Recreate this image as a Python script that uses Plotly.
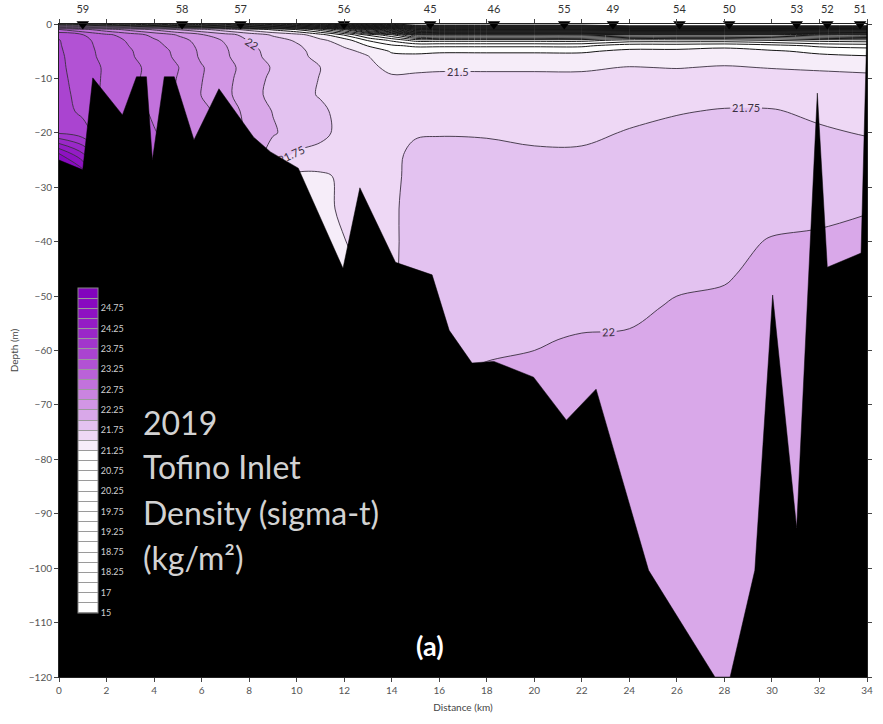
import numpy as np
import plotly.graph_objects as go

# ---------------- data ----------------
distance_km = [0, 1, 2, 3, 4, 5, 6, 7, 8, 9, 10, 11, 12, 13, 14, 15, 16,
               18, 20, 22, 24, 26, 28, 30, 32, 34]
depth_m = [0, -1, -2, -3, -4, -5, -6, -8, -10, -13, -16, -20, -24, -28,
           -34, -40, -46, -52, -58, -64, -75, -90, -105, -120]

# sigma-t profile for each distance (top to bottom, matching depth_m)
profiles = [
    [21.0, 23.0, 23.45, 23.51, 23.52, 23.53, 23.54, 23.55, 23.56, 23.58, 23.6, 23.72, 24.8, 25.2, 25.3, 25.3, 25.3, 25.3, 25.3, 25.3, 25.3, 25.3, 25.3, 25.3],
    [20.8, 22.8, 23.26, 23.32, 23.34, 23.36, 23.37, 23.38, 23.4, 23.42, 23.45, 23.6, 24.3, 24.98, 25.2, 25.2, 25.2, 25.2, 25.2, 25.2, 25.2, 25.2, 25.2, 25.2],
    [20.6, 22.6, 23.05, 23.12, 23.14, 23.15, 23.16, 23.21, 23.2, 23.19, 23.26, 23.35, 23.6, 23.98, 24.45, 24.8, 24.9, 24.9, 24.9, 24.9, 24.9, 24.9, 24.9, 24.9],
    [20.4, 22.4, 22.88, 22.96, 22.99, 23.02, 23.03, 23.08, 23.07, 23.06, 23.13, 23.2, 23.35, 23.6, 23.98, 24.3, 24.45, 24.45, 24.45, 24.45, 24.45, 24.45, 24.45, 24.45],
    [20.2, 22.2, 22.68, 22.78, 22.82, 22.85, 22.86, 22.91, 22.9, 22.88, 22.95, 23.02, 23.12, 23.3, 23.6, 23.98, 24.2, 24.2, 24.2, 24.2, 24.2, 24.2, 24.2, 24.2],
    [19.9, 21.98, 22.48, 22.6, 22.66, 22.7, 22.71, 22.76, 22.74, 22.73, 22.8, 22.86, 22.95, 23.1, 23.3, 23.6, 23.8, 23.8, 23.8, 23.8, 23.8, 23.8, 23.8, 23.8],
    [19.8, 21.8, 22.28, 22.4, 22.43, 22.45, 22.46, 22.52, 22.51, 22.49, 22.58, 22.63, 22.7, 22.8, 22.98, 23.2, 23.4, 23.4, 23.4, 23.4, 23.4, 23.4, 23.4, 23.4],
    [19.6, 21.6, 22.1, 22.22, 22.26, 22.28, 22.29, 22.34, 22.32, 22.31, 22.38, 22.42, 22.48, 22.6, 22.7, 22.8, 22.9, 22.9, 22.9, 22.9, 22.9, 22.9, 22.9, 22.9],
    [19.3, 21.4, 21.9, 21.98, 22.04, 22.07, 22.08, 22.14, 22.12, 22.1, 22.17, 22.2, 22.24, 22.3, 22.35, 22.4, 22.4, 22.4, 22.4, 22.4, 22.4, 22.4, 22.4, 22.4],
    [19.0, 21.2, 21.72, 21.85, 21.9, 21.92, 21.93, 21.98, 21.95, 21.93, 21.99, 22.03, 21.85, 21.6, 21.52, 21.52, 21.52, 21.52, 21.52, 21.52, 21.52, 21.52, 21.52, 21.52],
    [18.6, 20.98, 21.6, 21.72, 21.78, 21.81, 21.82, 21.88, 21.85, 21.83, 21.89, 21.88, 21.72, 21.45, 21.45, 21.45, 21.4, 21.4, 21.4, 21.4, 21.4, 21.4, 21.4, 21.4],
    [18.0, 20.6, 21.35, 21.55, 21.62, 21.66, 21.68, 21.75, 21.74, 21.73, 21.8, 21.79, 21.7, 21.45, 21.42, 21.35, 21.2, 21.2, 21.2, 21.2, 21.2, 21.2, 21.2, 21.2],
    [17.2, 19.98, 20.98, 21.38, 21.48, 21.55, 21.58, 21.6, 21.62, 21.64, 21.66, 21.7, 21.62, 21.55, 21.55, 21.49, 21.3, 21.3, 21.3, 21.3, 21.3, 21.3, 21.3, 21.3],
    [15.9, 18.9, 20.45, 20.98, 21.24, 21.45, 21.51, 21.55, 21.58, 21.6, 21.63, 21.66, 21.64, 21.62, 21.62, 21.62, 21.62, 21.62, 21.62, 21.62, 21.62, 21.62, 21.62, 21.62],
    [15.1, 18.1, 20.05, 20.7, 21.05, 21.22, 21.32, 21.45, 21.53, 21.6, 21.65, 21.7, 21.7, 21.7, 21.71, 21.7, 21.7, 21.7, 21.7, 21.7, 21.7, 21.7, 21.7, 21.7],
    [14.5, 17.0, 19.3, 20.4, 20.95, 21.2, 21.3, 21.46, 21.54, 21.61, 21.67, 21.73, 21.8, 21.82, 21.84, 21.86, 21.88, 21.9, 21.93, 21.96, 21.99, 22.05, 22.1, 22.13],
    [14.5, 17.0, 19.3, 20.4, 20.95, 21.22, 21.32, 21.47, 21.55, 21.62, 21.68, 21.74, 21.8, 21.83, 21.86, 21.88, 21.9, 21.93, 21.96, 21.99, 22.03, 22.08, 22.11, 22.14],
    [14.5, 17.0, 19.3, 20.4, 20.95, 21.22, 21.32, 21.47, 21.55, 21.62, 21.68, 21.74, 21.78, 21.82, 21.86, 21.9, 21.93, 21.95, 21.98, 22.01, 22.05, 22.1, 22.12, 22.15],
    [14.5, 17.0, 19.3, 20.4, 20.95, 21.22, 21.32, 21.47, 21.55, 21.61, 21.67, 21.72, 21.77, 21.81, 21.86, 21.9, 21.93, 21.96, 21.99, 22.02, 22.06, 22.1, 22.12, 22.15],
    [14.5, 17.0, 19.3, 20.4, 20.95, 21.22, 21.32, 21.47, 21.55, 21.61, 21.67, 21.72, 21.77, 21.81, 21.86, 21.9, 21.93, 21.96, 22.01, 22.03, 22.06, 22.1, 22.12, 22.15],
    [14.0, 17.0, 19.5, 20.6, 21.15, 21.3, 21.38, 21.51, 21.58, 21.65, 21.71, 21.76, 21.8, 21.84, 21.88, 21.92, 21.95, 21.98, 22.01, 22.03, 22.06, 22.1, 22.12, 22.15],
    [14.0, 17.0, 19.5, 20.6, 21.15, 21.3, 21.38, 21.49, 21.6, 21.68, 21.74, 21.79, 21.83, 21.87, 21.91, 21.95, 21.98, 22.01, 22.03, 22.05, 22.08, 22.1, 22.12, 22.15],
    [14.0, 17.0, 19.5, 20.6, 21.2, 21.32, 21.4, 21.52, 21.62, 21.7, 21.76, 21.8, 21.84, 21.88, 21.92, 21.96, 21.99, 22.02, 22.04, 22.06, 22.08, 22.1, 22.12, 22.15],
    [14.0, 17.0, 19.5, 20.5, 21.1, 21.28, 21.37, 21.49, 21.6, 21.69, 21.76, 21.8, 21.85, 21.9, 21.95, 22.01, 22.03, 22.05, 22.07, 22.09, 22.1, 22.12, 22.14, 22.15],
    [14.0, 17.0, 19.3, 20.4, 20.95, 21.2, 21.3, 21.47, 21.57, 21.66, 21.72, 21.77, 21.83, 21.9, 21.97, 22.02, 22.05, 22.07, 22.09, 22.1, 22.12, 22.13, 22.14, 22.15],
    [14.0, 17.0, 19.2, 20.35, 20.9, 21.15, 21.27, 21.45, 21.55, 21.63, 21.69, 21.74, 21.8, 21.88, 21.99, 22.05, 22.07, 22.09, 22.1, 22.11, 22.12, 22.13, 22.14, 22.15],
]

# bathymetry (sea floor) along the section
bathy_km = [0.0, 1.0, 1.42, 2.67, 3.26, 3.68, 3.93, 4.43, 4.85, 5.68, 6.73, 8.19,
            8.9, 10.07, 11.95, 12.66, 14.16, 15.7, 16.42, 17.38, 18.3, 19.97,
            21.35, 22.6, 23.43, 24.81, 27.6, 28.24, 29.28, 30.03, 31.04, 31.91,
            32.33, 33.75, 34.0]
bathy_depth = [-25.0, -26.8, -9.9, -16.7, -9.7, -9.7, -25.0, -9.7, -9.7, -21.3,
               -11.9, -20.8, -23.5, -26.5, -44.9, -30.1, -43.8, -46.1, -56.3,
               -62.3, -62.0, -64.9, -72.8, -67.1, -79.6, -100.4, -120.0, -120.0,
               -100.4, -49.8, -92.6, -12.7, -44.7, -42.1, 0.0]

station_names = ['59', '58', '57', '56', '45', '46', '55', '49', '54', '50', '53', '52', '51']
station_km = [1.0, 5.18, 7.64, 11.99, 15.62, 18.3, 21.26, 23.31, 26.11, 28.2, 31.04, 32.33, 33.71]

legend_labels = ['15', '17', '18.25', '18.75', '19.25', '19.75', '20.25', '20.75',
                 '21.25', '21.75', '22.25', '22.75', '23.25', '23.75', '24.25', '24.75']

fill_levels = [21.25, 21.5, 21.75, 22.0, 22.25, 22.5, 22.75, 23.0, 23.25, 23.5,
               23.75, 24.0, 24.25, 24.5, 24.75, 25.0]
fill_colors = ['#f6edf9', '#eed8f5', '#e3c2f0', '#d9a8e9', '#d296e5', '#ca84e0',
               '#c272dc', '#ba62d8', '#b252d4', '#aa44d0', '#a236cc', '#9a28c8',
               '#941cc5', '#8e12c2', '#880ac0', '#8204bd']

# ---------------- build figure ----------------
density = np.array(profiles).T  # rows = depth, cols = distance

C_START, C_END, C_SIZE = 15.0, 25.0, 0.25
nc = int(round((C_END - C_START) / C_SIZE)) + 1


def color_for(lower):
    c = '#ffffff'
    for lv, col in zip(fill_levels, fill_colors):
        if lower >= lv - 1e-9:
            c = col
    return c


fill_scale = []
for j in range(nc + 1):
    col = '#ffffff' if j == 0 else color_for(C_START + (j - 1) * C_SIZE)
    a = max(0.0, (j - 0.5) / nc)
    b = min(1.0, (j + 0.5) / nc)
    fill_scale += [[a, col], [b, col]]

LINE_COL = '#3a3040'

fig = go.Figure()

fig.add_trace(go.Contour(
    x=distance_km, y=depth_m, z=density, autocontour=False,
    contours=dict(start=C_START, end=C_END, size=C_SIZE, coloring='fill', showlines=False),
    colorscale=fill_scale, showscale=False, line=dict(width=0), hoverinfo='skip'))

for s, e, lab, col, w in [(15.0, 21.25, False, '#161616', 1.0),
                          (21.5, 22.0, True, LINE_COL, 0.9),
                          (22.25, 25.0, False, LINE_COL, 0.9)]:
    fig.add_trace(go.Contour(
        x=distance_km, y=depth_m, z=density, autocontour=False,
        contours=dict(start=s, end=e, size=C_SIZE, coloring='lines', showlabels=lab,
                      labelfont=dict(size=11, color=col, family='Lato')),
        colorscale=[[0, col], [1, col]], showscale=False, line=dict(width=w),
        hoverinfo='skip'))

# sea floor
fig.add_trace(go.Scatter(
    x=bathy_km + [34.0, 0.0], y=bathy_depth + [-130.0, -130.0],
    mode='lines', fill='toself', fillcolor='black', line=dict(color='black', width=0.5),
    hoverinfo='skip', showlegend=False))

# stations
fig.add_trace(go.Scatter(
    x=station_km, y=[0] * len(station_km), mode='markers+text', text=station_names,
    textposition='top center', textfont=dict(size=11, color='#333', family='Lato'),
    marker=dict(symbol='triangle-down', size=11, color='black'),
    cliponaxis=False, hoverinfo='skip', showlegend=False))

# legend boxes (colour key)
legend_colors = ['#ffffff'] * (len(legend_labels) * 2 - len(fill_colors)) + fill_colors
nb = len(legend_colors)
sep = '#9a9a9a'
eps = 0.5 / 325
cb_scale = []
for k, col in enumerate(legend_colors):
    a, b = k / nb, (k + 1) / nb
    cb_scale += [[a, sep], [a + eps, sep], [a + eps, col], [b - eps, col], [b - eps, sep], [b, sep]]

fig.add_trace(go.Scatter(
    x=[None], y=[None], mode='markers', hoverinfo='skip', showlegend=False,
    marker=dict(color=[0], cmin=0, cmax=nb, colorscale=cb_scale, showscale=True,
                colorbar=dict(x=0.0233, xanchor='left', y=0.347, yanchor='middle',
                              len=0.498, lenmode='fraction', thickness=20, thicknessmode='pixels',
                              xpad=0, ypad=0, outlinewidth=1, outlinecolor='#888',
                              tickvals=list(range(0, nb, 2)), ticktext=legend_labels,
                              ticks='', tickfont=dict(size=9, color='#cfcfcf', family='Lato'),
                              bgcolor='rgba(0,0,0,0)'))))

# text overlays
txt_lines = [('2019', -73.2), ('Tofino Inlet', -81.4), ('Density (sigma-t)', -89.7), ('(kg/m²)', -98.0)]
annotations = []
for t, yy in txt_lines:
    annotations.append(dict(x=3.45, y=yy, xref='x', yref='y', text=t, showarrow=False,
                            xanchor='left', yanchor='middle',
                            font=dict(size=32, color='#d2d2d2', family='Lato')))
annotations.append(dict(x=15.6, y=-114.3, xref='x', yref='y', text='<b>(a)</b>', showarrow=False,
                        xanchor='center', yanchor='middle',
                        font=dict(size=27, color='white', family='Lato')))

fig.update_layout(
    width=883, height=724,
    margin=dict(l=59, r=10, t=24, b=47),
    paper_bgcolor='white', plot_bgcolor='white',
    font=dict(family='Lato, Open Sans, sans-serif', color='#444'),
    showlegend=False,
    annotations=annotations,
    xaxis=dict(range=[0, 34], dtick=2, tick0=0, ticks='outside', ticklen=4, tickcolor='#444',
               showline=True, linecolor='#222', linewidth=1, mirror='ticks', showgrid=False,
               zeroline=False, tickfont=dict(size=10, color='#555'),
               title=dict(text='Distance (km)', font=dict(size=10, color='#444'), standoff=8)),
    yaxis=dict(range=[-120, 0], dtick=10, tick0=0, ticks='outside', ticklen=4, tickcolor='#444',
               showline=True, linecolor='#222', linewidth=1, mirror='ticks', showgrid=False,
               zeroline=False, tickfont=dict(size=10, color='#555'),
               title=dict(text='Depth (m)', font=dict(size=10, color='#444'), standoff=8)),
)

fig.write_html('out.html')
